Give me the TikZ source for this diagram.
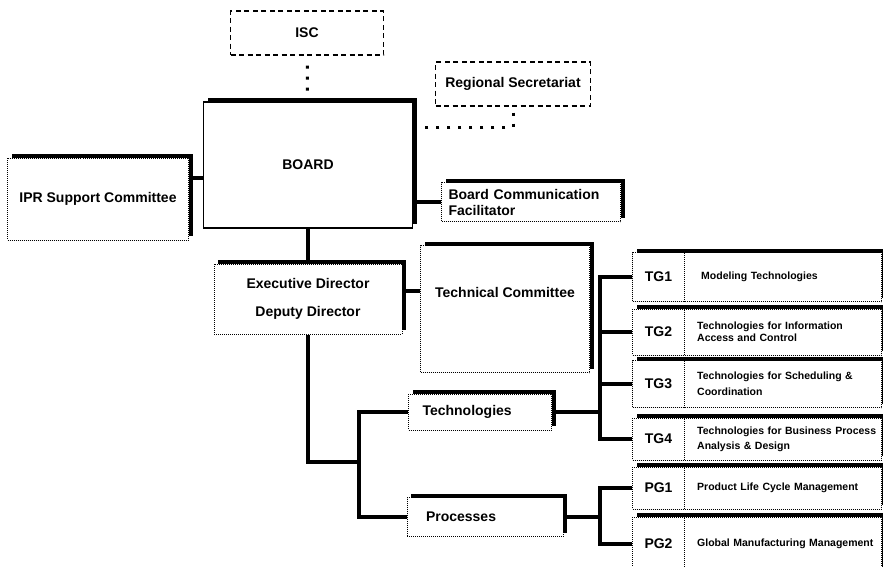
\documentclass[tikz,border=0pt]{standalone}
\usepackage{fontspec}
\setmainfont{Liberation Sans}
\usetikzlibrary{shadows,backgrounds}

\tikzset{
  cell/.style={draw, line width=1pt, dash pattern=on 1pt off 1pt},
  unit/.style={cell, fill=white, inner sep=0pt,
    general shadow={fill=black, shadow xshift=4pt, shadow yshift=4pt},
    font=\fontsize{14}{16}\selectfont\bfseries},
  dashbox/.style={draw, fill=white, line width=1.3pt, dash pattern=on 5pt off 3.5pt,
    font=\fontsize{14}{16}\selectfont\bfseries},
  caption/.style={font=\fontsize{14}{16}\selectfont\bfseries},
  small/.style={font=\fontsize{10.5}{12}\selectfont\bfseries, inner sep=0pt},
  link/.style={line width=4pt},
  dotline/.style={line width=3pt, dash pattern=on 3pt off 8pt}
}

\begin{document}
\begin{tikzpicture}[x=1pt,y=-1pt]
\useasboundingbox (0,0) rectangle (883,566);

\node[dashbox, minimum width=153, minimum height=44] (isc) at (307,33) {ISC};
\node[dashbox, minimum width=155, minimum height=44] (regsec) at (513,84) {Regional Secretariat};
\node[unit, solid, line width=1.2pt, minimum width=209, minimum height=126] (board) at (308,165) {BOARD};
\node[unit, minimum width=181, minimum height=82] (ipr) at (98,199) {IPR Support Committee};
\node[unit, align=left, text width=165, inner xsep=7pt, minimum height=39] (bcf) at (531,202) {Board Communication\\Facilitator};
\node[unit, align=center, minimum width=188, minimum height=70, font=\fontsize{14}{28}\selectfont\bfseries] (exec) at (308,299) {\raisebox{-3pt}{Executive Director}\\\raisebox{-3pt}{Deputy Director}};
\node[unit, minimum width=169, minimum height=127] (techc) at (505,309) {};
\node[caption] (techctext) at (505,292) {Technical Committee};
\node[unit, text width=115, inner xsep=14pt, minimum height=36] (techn) at (480,412) {Technologies};
\node[unit, text width=118, inner xsep=19pt, minimum height=39] (proc) at (485,517) {Processes};

% groups
\foreach \n/\lab/\y/\h/\txt in {
  tg1/TG1/277/49/{\hspace{4pt}Modeling Technologies},
  tg2/TG2/332/46/{Technologies for Information\\Access and Control},
  tg3/TG3/384/47/{Technologies for Scheduling \&\\[4pt]Coordination},
  tg4/TG4/439/42/{Technologies for Business Process\\[3pt]Analysis \& Design},
  pg1/PG1/488/42/{Product Life Cycle Management},
  pg2/PG2/544/54/{Global Manufacturing Management}}{
  \node[unit, minimum width=249, minimum height=\h] (\n) at (757,\y) {};
  \node[cell, caption, minimum width=52, minimum height=\h, anchor=west] (\n lab) at (\n.west) {\lab};
  \node[small, anchor=west, text width=182, align=left] (\n txt) at (697,\y) {\txt};
}

\coordinate (regend) at (421,127);
\coordinate (split) at (359,462);
\coordinate (tjoin) at (600,412);
\coordinate (pjoin) at (600,517);

\begin{scope}[on background layer]
\draw[dotline, shorten <=10pt, shorten >=8pt] (isc) -- (board);
\draw[dotline, shorten <=6pt] (regsec.south) |- (regend);
\draw[link] ([yshift=21pt]ipr.east) -- ([yshift=21pt]ipr.east -| board.west);
\draw[link] (bcf.west) -- (bcf.west -| board.east);
\draw[link] (board) -- (exec);
\draw[link] ([yshift=8pt]exec.east) -- ([yshift=8pt]exec.east -| techc.west);
\draw[link] (exec.south) |- (split);
\draw[link] (techn.west) -| (split) |- (proc.west);
\draw[link] (techn.east) -- (tjoin);
\foreach \n in {tg1,tg2,tg3,tg4} \draw[link] (\n.west) -| (tjoin);
\draw[link] (proc.east) -- (pjoin);
\foreach \n in {pg1,pg2} \draw[link] (\n.west) -| (pjoin);
\end{scope}
\end{tikzpicture}
\end{document}
